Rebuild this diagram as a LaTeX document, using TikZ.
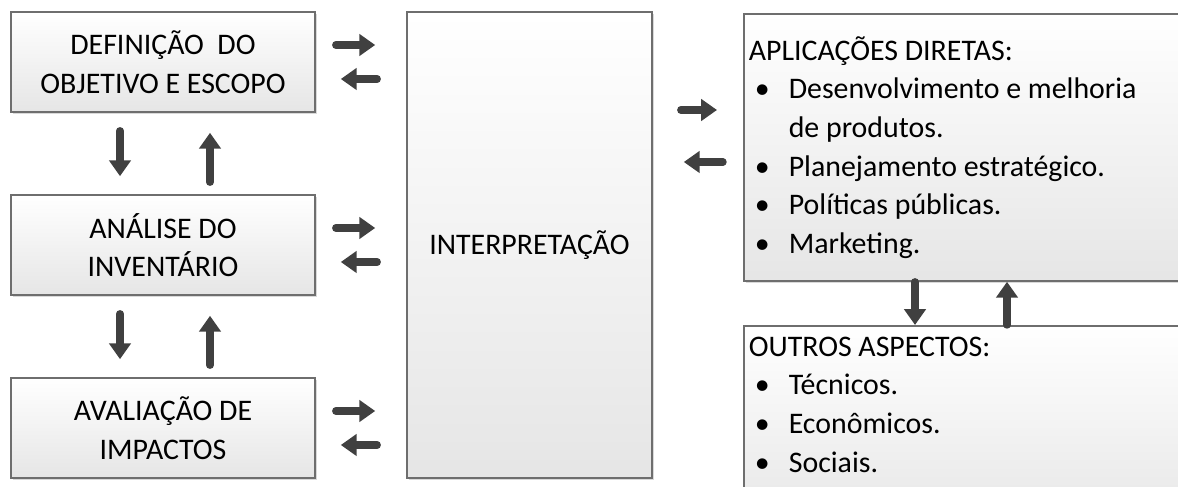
\documentclass[tikz,border=0pt]{standalone}
\usepackage{fontspec}
\setmainfont{Carlito}
\usetikzlibrary{arrows.meta,calc,shadows}
\definecolor{arrowgray}{HTML}{404040}
\definecolor{boxline}{HTML}{6E6E6E}
\newcommand{\bul}{\makebox[0.8cm][l]{\hspace{0.12cm}\textbullet}}

\begin{document}
\begin{tikzpicture}[
    box/.style={draw=boxline, line width=0.9pt, top color=white, bottom color=black!10,
        drop shadow={shadow xshift=1.2pt, shadow yshift=-1.2pt, opacity=0.3},
        font=\fontsize{17}{22}\selectfont},
    stage/.style={box, minimum width=6.08cm, minimum height=2cm, align=center},
    listbox/.style={box, anchor=north west, text width=8.74cm, align=flush left, inner xsep=0.1cm},
    fat/.style={draw=arrowgray, line width=4.2pt, line cap=round, -{Triangle[width=12pt,length=9pt]}}
]
    \useasboundingbox (0,0) rectangle (23.56,-9.74);
    \clip (0,0) rectangle (23.56,-9.74);

    % Phases on the left
    \node[stage] (def) at (3.26,-1.24) {DEFINIÇÃO\ \ DO\\OBJETIVO E ESCOPO};
    \node[stage] (ana) at (3.26,-4.9) {ANÁLISE DO\\INVENTÁRIO};
    \node[stage] (ava) at (3.26,-8.56) {AVALIAÇÃO DE\\IMPACTOS};

    % Interpretation
    \node[box, minimum width=4.9cm, minimum height=9.32cm] (interp) at (10.59,-4.9) {INTERPRETAÇÃO};

    % Applications and other aspects
    \node[listbox, inner ysep=0.45cm] (app) at (14.86,-0.26) {%
        APLICAÇÕES DIRETAS:\\
        \bul Desenvolvimento e melhoria\\
        \hspace{0.8cm}de produtos.\\
        \bul Planejamento estratégico.\\
        \bul Políticas públicas.\\
        \bul Marketing.};
    \node[listbox, inner ysep=0.22cm] (out) at (14.86,-6.5) {%
        OUTROS ASPECTOS:\\
        \bul Técnicos.\\
        \bul Econômicos.\\
        \bul Sociais.\rule[-1cm]{0pt}{1cm}};

    % Arrows to and from interpretation
    \foreach \s in {def,ana,ava}{
        \draw[fat, shorten <=0.4cm, shorten >=0.62cm] ($(\s.east)+(0,0.34)$) -- ($(\s.east -| interp.west)+(0,0.34)$);
        \draw[fat, shorten <=0.58cm, shorten >=0.5cm] ($(\s.east -| interp.west)+(0,-0.34)$) -- ($(\s.east)+(0,-0.34)$);
    }

    % Arrows between phases
    \foreach \a/\b in {def/ana,ana/ava}{
        \draw[fat, shorten <=0.36cm, shorten >=0.36cm] ($(\a.south)+(-0.86,0)$) -- ($(\b.north)+(-0.86,0)$);
        \draw[fat, shorten <=0.24cm, shorten >=0.4cm] ($(\b.north)+(0.94,0)$) -- ($(\a.south)+(0.94,0)$);
    }

    % Interpretation and applications
    \draw[fat, shorten <=0.56cm, shorten >=0.52cm] ($(app.north west -| interp.east)+(0,-1.94)$) -- ($(app.north west)+(0,-1.94)$);
    \draw[fat, shorten <=0.4cm, shorten >=0.62cm] ($(app.north west)+(0,-2.98)$) -- ($(app.north west -| interp.east)+(0,-2.98)$);

    % Applications and other aspects
    \draw[fat] ($(app.south west)+(3.44,0)$) -- ($(out.north west)+(3.44,0)$);
    \draw[fat] ($(out.north west)+(5.28,0)$) -- ($(app.south west)+(5.28,0)$);
\end{tikzpicture}
\end{document}
